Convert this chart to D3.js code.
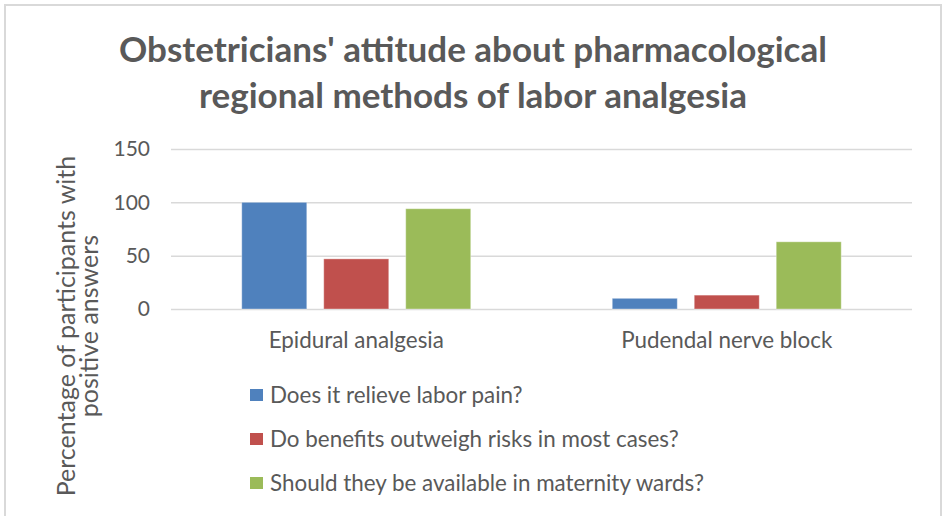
<!DOCTYPE html>
<html>
<head>
<meta charset="utf-8">
<script src="https://cdn.jsdelivr.net/npm/d3@7"></script>
<style>
    body { margin: 0; background: #fff; }
    text { font-family: Lato, "Noto Sans", sans-serif; fill: #595959; }
</style>
</head>
<body>
<div id="chart"></div>
<script>
const categories = ["Epidural analgesia", "Pudendal nerve block"];
const seriesNames = [
    "Does it relieve labor pain?",
    "Do benefits outweigh risks in most cases?",
    "Should they be available in maternity wards?"
];
const seriesValues = [
    [100, 10],
    [47, 13],
    [94, 63]
];
const yTicks = [0, 50, 100, 150];
const colors = ["#4f81bd", "#c0504d", "#9bbb59"];

const width = 947;
const height = 516;

const svg = d3.select("#chart")
    .append("svg")
    .attr("width", width)
    .attr("height", height);

// chart border
svg.append("rect")
    .attr("x", 5).attr("y", 5)
    .attr("width", 936).attr("height", 520)
    .attr("fill", "none")
    .attr("stroke", "#d9d9d9")
    .attr("stroke-width", 2);

// title
const title = svg.append("text")
    .attr("text-anchor", "middle")
    .style("font-size", "35px")
    .style("font-weight", "bold");
title.append("tspan").attr("x", 473).attr("y", 62).text("Obstetricians' attitude about pharmacological");
title.append("tspan").attr("x", 473).attr("y", 108).text("regional methods of labor analgesia");

const plot = { left: 171, right: 912, top: 149, bottom: 309 };

const y = d3.scaleLinear()
    .domain([0, 150])
    .range([plot.bottom, plot.top]);

const x0 = d3.scaleBand()
    .domain(categories)
    .range([plot.left, plot.right])
    .paddingInner(0.382)
    .paddingOuter(0.191);

const x1 = d3.scaleBand()
    .domain(d3.range(seriesNames.length))
    .range([0, x0.bandwidth()])
    .paddingInner(0.207);

// gridlines + tick labels
const yAxis = svg.append("g")
    .attr("transform", `translate(${plot.left},0)`)
    .call(d3.axisLeft(y).tickValues(yTicks).tickSize(-(plot.right - plot.left)).tickPadding(21));
yAxis.select(".domain").remove();
yAxis.selectAll(".tick line").attr("stroke", "#d9d9d9").attr("stroke-width", 1.5);
yAxis.selectAll(".tick text")
    .style("font-size", "21px")
    .style("font-family", "Lato, sans-serif")
    .attr("fill", "#595959");

// bars
const groups = svg.selectAll(".group")
    .data(categories)
    .join("g")
    .attr("transform", d => `translate(${x0(d)},0)`);

groups.selectAll("rect")
    .data((d, ci) => seriesValues.map((vals, si) => ({ si, v: vals[ci] })))
    .join("rect")
    .attr("x", d => x1(d.si))
    .attr("width", x1.bandwidth())
    .attr("y", d => y(d.v))
    .attr("height", d => y(0) - y(d.v))
    .attr("fill", d => colors[d.si])
    .attr("stroke", "#fff")
    .attr("stroke-opacity", 0.35)
    .attr("stroke-width", 1);

// category labels
svg.selectAll(".cat")
    .data(categories)
    .join("text")
    .attr("x", d => x0(d) + x0.bandwidth() / 2)
    .attr("y", 348)
    .attr("text-anchor", "middle")
    .style("font-size", "22.4px")
    .text(d => d);

// y axis title
const yTitle = svg.append("text")
    .attr("transform", "translate(75,326) rotate(-90)")
    .attr("text-anchor", "middle")
    .style("font-size", "25px");
yTitle.append("tspan").attr("x", 0).attr("y", 0).text("Percentage of participants with");
yTitle.append("tspan").attr("x", 0).attr("y", 23).text("positive answers");

// legend
const legend = svg.selectAll(".legend")
    .data(seriesNames)
    .join("g")
    .attr("transform", (d, i) => `translate(250,${395 + i * 44})`);

legend.append("rect")
    .attr("x", 0).attr("y", -6)
    .attr("width", 13).attr("height", 12)
    .attr("fill", (d, i) => colors[i]);

legend.append("text")
    .attr("x", 20)
    .attr("y", 8)
    .style("font-size", "22.4px")
    .text(d => d);
</script>
</body>
</html>
